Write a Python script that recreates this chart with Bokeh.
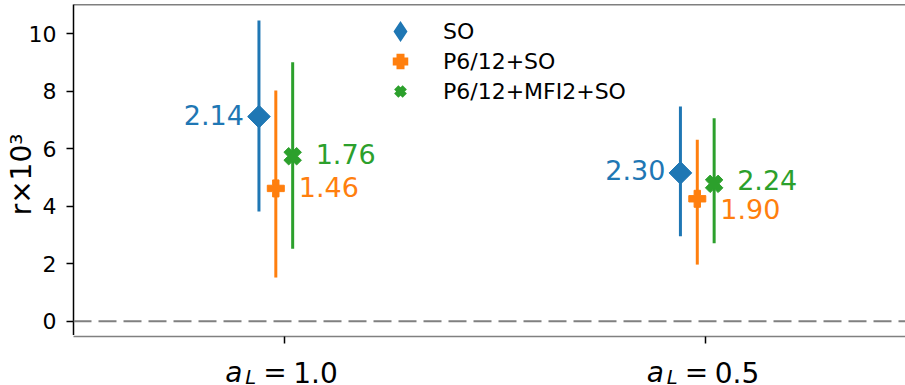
import math
from bokeh.plotting import figure
from bokeh.layouts import column
from bokeh.models import (Range1d, FixedTicker, Span, Legend, LegendItem,
                          ColumnDataSource)
from bokeh.core.properties import value
from bokeh.embed import file_html
from bokeh.resources import INLINE

# ---------------- data ----------------
groups = ["1.0", "0.5"]              # a_L values (tick labels)
positions = [0, 1]                    # category positions
y_ticks = [0, 2, 4, 6, 8, 10]
y_title = "r\u00d710\u00b3\u00a0"
series = ["SO", "P6/12+SO", "P6/12+MFI2+SO"]

so_val = [7.12, 5.16]
so_lo = [3.82, 2.96]
so_hi = [10.46, 7.47]
so_lab = ["2.14", "2.30"]

p6_val = [4.62, 4.26]
p6_lo = [1.52, 1.97]
p6_hi = [8.03, 6.31]
p6_lab = ["1.46", "1.90"]

mfi_val = [5.74, 4.78]
mfi_lo = [2.52, 2.71]
mfi_hi = [9.01, 7.06]
mfi_lab = ["1.76", "2.24"]

# ---------------- style ----------------
FONT = "DejaVu Sans"
colors = ["#1f77b4", "#ff7f0e", "#2ca02c"]
dodge = [-0.06, -0.02, 0.02]
markers = [("square", math.pi / 4, 16), ("plus", 0.0, 17), ("plus", math.pi / 4, 18)]
legend_markers = [("diamond", 5), ("plus", 3.5), ("x", 6)]
lab_align = ["right", "left", "left"]
lab_dx = [[-15, -15], [23, 23], [23, 23]]
lab_dy = [[-2, -3], [-1, 10], [-2, -4]]

TOTAL_W, TOTAL_H = 905, 385
MAIN_H = 335
LEFT = 73


def bare(fig):
    fig.outline_line_color = None
    fig.background_fill_color = "white"
    fig.border_fill_color = "white"
    for g in fig.grid:
        g.visible = False


# ---------------- main plot ----------------
p = figure(width=TOTAL_W, height=MAIN_H, output_backend="svg",
           toolbar_location=None, x_axis_location=None,
           x_range=Range1d(-0.5, 1.474), y_range=Range1d(-0.497, 11.02),
           min_border_left=LEFT, min_border_right=0, min_border_top=4,
           min_border_bottom=0)
bare(p)

p.yaxis.ticker = FixedTicker(ticks=y_ticks)
p.yaxis.axis_line_color = "black"
p.yaxis.axis_line_width = 1.5
p.yaxis.major_tick_line_color = "black"
p.yaxis.major_tick_line_width = 1.5
p.yaxis.major_tick_out = 7
p.yaxis.major_tick_in = 0
p.yaxis.minor_tick_out = 0
p.yaxis.minor_tick_in = 0
p.yaxis.major_label_text_font = FONT
p.yaxis.major_label_text_font_size = "22px"
p.yaxis.major_label_text_color = "black"
p.yaxis.major_label_standoff = 10
p.yaxis.axis_label = y_title
p.yaxis.axis_label_text_font = FONT
p.yaxis.axis_label_text_font_size = "28px"
p.yaxis.axis_label_text_font_style = "normal"
p.yaxis.axis_label_text_color = "black"
p.yaxis.axis_label_standoff = -12

p.add_layout(Span(location=0, dimension="width", line_color="#808080",
                  line_width=2, line_dash="18 7"))
p.add_layout(Span(location=p.y_range.end, dimension="width", line_color="black",
                  line_width=1.5))

vals = [so_val, p6_val, mfi_val]
los = [so_lo, p6_lo, mfi_lo]
his = [so_hi, p6_hi, mfi_hi]
labs = [so_lab, p6_lab, mfi_lab]

items = []
for i in range(3):
    xs = [pos + dodge[i] for pos in positions]
    src = ColumnDataSource(dict(x=xs, y=vals[i], lo=los[i], hi=his[i],
                                lab=labs[i], dx=lab_dx[i], dy=lab_dy[i]))
    p.segment(x0="x", y0="lo", x1="x", y1="hi", source=src,
              line_color=colors[i], line_width=3)
    # legend key glyph (tiny, hidden under the real marker)
    lmk, llw = legend_markers[i]
    key = p.scatter(x="x", y="y", source=src, marker=lmk, size=1,
                    fill_color=colors[i], line_color=colors[i], line_width=llw,
                    line_join="miter")
    mk, ang, sz = markers[i]
    p.scatter(x="x", y="y", source=src, marker=mk, angle=ang, size=sz,
              fill_color=colors[i], line_color=colors[i], line_width=1)
    items.append(LegendItem(label=series[i], renderers=[key]))
    p.text(x="x", y="y", text="lab", source=src, x_offset="dx", y_offset="dy",
           text_align=lab_align[i], text_baseline="middle",
           text_font=value(FONT), text_font_size="27px", text_color=colors[i])

legend = Legend(items=items, location=(312, 229), orientation="vertical",
                glyph_width=30, glyph_height=30, spacing=0, padding=0, margin=0,
                label_standoff=28, label_text_font=FONT, label_text_font_size="22px",
                label_text_color="black", border_line_color=None,
                background_fill_alpha=0)
p.add_layout(legend)

# ---------------- x axis strip with tick labels: a_L = value ----------------
pb = figure(width=TOTAL_W, height=TOTAL_H - MAIN_H, output_backend="svg",
            toolbar_location=None, x_range=p.x_range,
            y_range=Range1d(0, TOTAL_H - MAIN_H - 1), x_axis_location="above",
            y_axis_location=None, min_border_left=LEFT, min_border_right=0,
            min_border_top=1, min_border_bottom=0)
bare(pb)
pb.xaxis.ticker = FixedTicker(ticks=positions)
pb.xaxis.major_label_overrides = {pos: "" for pos in positions}
pb.xaxis.major_label_text_font_size = "0px"
pb.xaxis.major_label_standoff = 0
pb.xaxis.axis_line_color = "#808080"
pb.xaxis.axis_line_width = 1.5
pb.xaxis.major_tick_line_color = "black"
pb.xaxis.major_tick_line_width = 1.5
pb.xaxis.major_tick_out = 0
pb.xaxis.major_tick_in = 7
pb.xaxis.minor_tick_out = 0
pb.xaxis.minor_tick_in = 0

n = len(positions)
tick_src = ColumnDataSource(dict(x=positions, val=groups,
                                 a=["a"] * n, sub=["L"] * n, eq=["="] * n))
txt = dict(x="x", source=tick_src, text_align="left", text_baseline="alphabetic",
           text_font=value(FONT), text_color="black")
pb.text(y=13.5, text="a", x_offset=-59, text_font_style="italic",
        text_font_size="28px", **txt)
pb.text(y=8, text="sub", x_offset=-39, text_font_style="italic",
        text_font_size="19.6px", **txt)
pb.text(y=13.5, text="eq", x_offset=-21, text_font_size="28px", **txt)
pb.text(y=13.5, text="val", x_offset=9, text_font_size="28px", **txt)

layout = column(p, pb, spacing=0)
open("out.html", "w").write(file_html(layout, INLINE))
